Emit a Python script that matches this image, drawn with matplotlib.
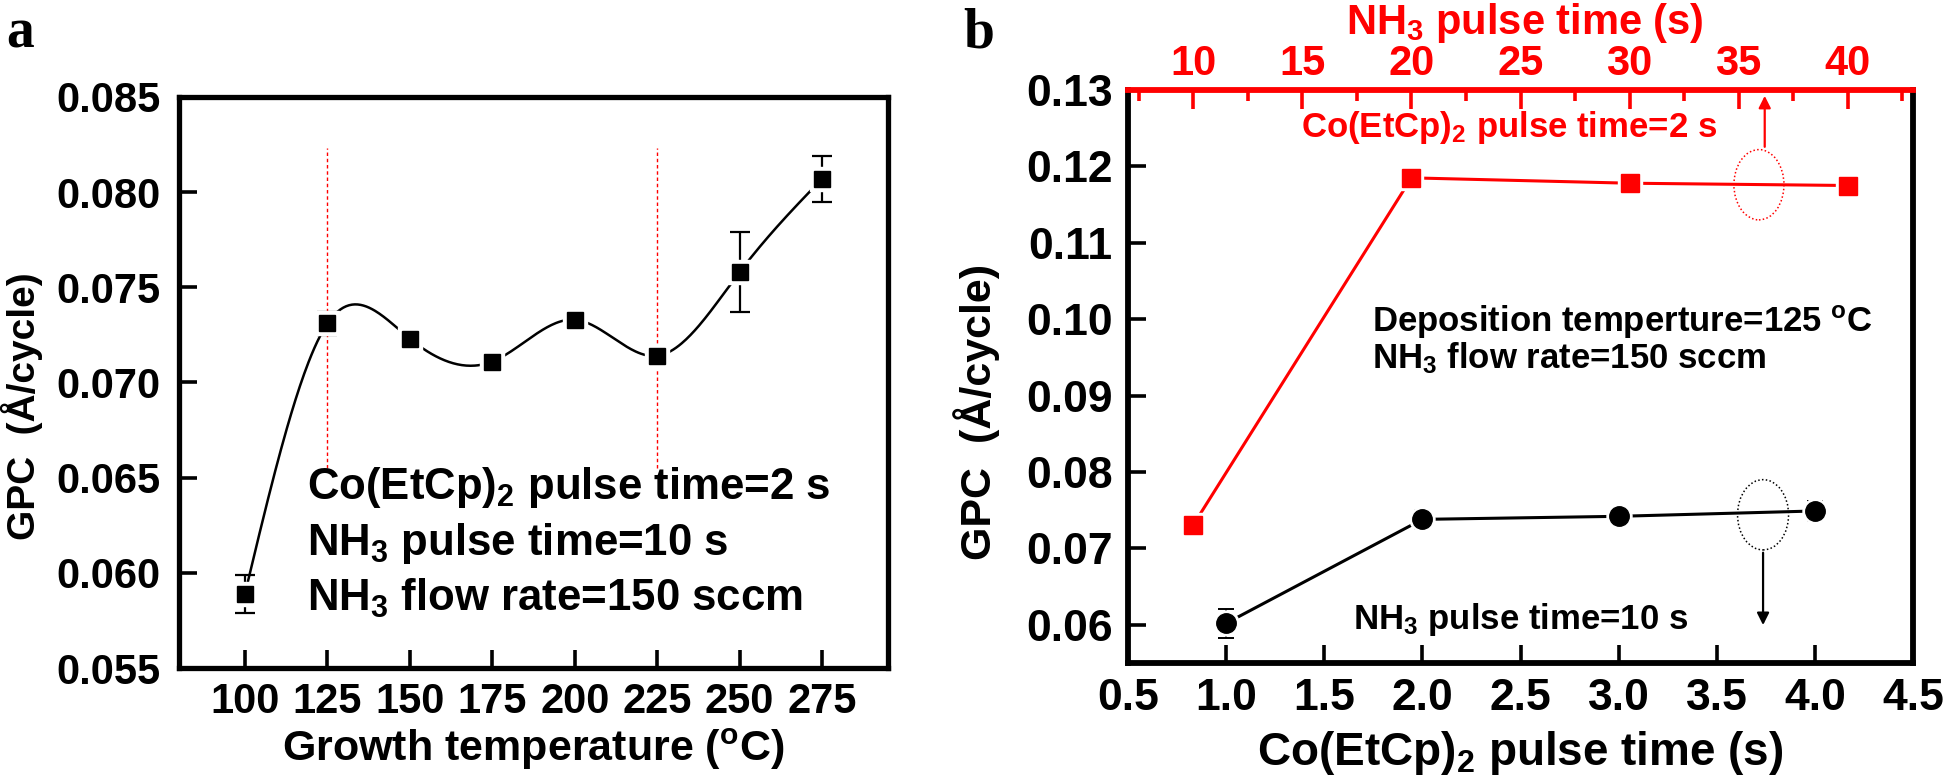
import numpy as np
import matplotlib
matplotlib.use('Agg')
import matplotlib.pyplot as plt
from matplotlib.patches import Ellipse

# panel a: growth temperature series
temp = [100, 125, 150, 175, 200, 225, 250, 275]
gpc_temp = [0.0589, 0.0731, 0.0723, 0.0711, 0.0733, 0.0714, 0.0758, 0.0807]
err_temp = [0.0010, 0.0006, 0.0002, 0.0002, 0.0002, 0.0005, 0.0021, 0.0012]

# panel b: pulse time series
co_time = [1.0, 2.0, 3.0, 4.0]
gpc_co = [0.0602, 0.0738, 0.0742, 0.0749]
err_co = [0.0019, 0.0012, 0.0004, 0.0013]
nh3_time = [10, 20, 30, 40]
gpc_nh3 = [0.0731, 0.1185, 0.1178, 0.1175]

plt.rcParams['font.family'] = ['Liberation Sans', 'DejaVu Sans']
plt.rcParams['font.weight'] = 'bold'
plt.rcParams['mathtext.fontset'] = 'custom'
plt.rcParams['mathtext.rm'] = 'Liberation Sans:bold'
plt.rcParams['mathtext.it'] = 'Liberation Sans:bold'
plt.rcParams['mathtext.bf'] = 'Liberation Sans:bold'
plt.rcParams['mathtext.default'] = 'rm'

W, H = 1946, 778
def fx(px):
    return px / W
def fy(py):
    return 1 - py / H


def natural_spline(x, y, xs):
    # Origin-style spline connector through the measured points
    x = np.asarray(x, float)
    y = np.asarray(y, float)
    n = len(x)
    h = np.diff(x)
    A = np.zeros((n, n))
    r = np.zeros(n)
    A[0, 0] = A[-1, -1] = 1
    for i in range(1, n - 1):
        A[i, i - 1] = h[i - 1]
        A[i, i] = 2 * (h[i - 1] + h[i])
        A[i, i + 1] = h[i]
        r[i] = 3 * ((y[i + 1] - y[i]) / h[i] - (y[i] - y[i - 1]) / h[i - 1])
    c = np.linalg.solve(A, r)
    b = (y[1:] - y[:-1]) / h - h * (2 * c[:-1] + c[1:]) / 3
    d = (c[1:] - c[:-1]) / (3 * h)
    idx = np.clip(np.searchsorted(x, xs) - 1, 0, n - 2)
    dx = xs - x[idx]
    return y[idx] + b[idx] * dx + c[idx] * dx ** 2 + d[idx] * dx ** 3


fig = plt.figure(figsize=(19.46, 7.78), dpi=100)

# ---------------- panel a ----------------
ax = fig.add_axes([fx(179), fy(668), (888 - 179) / W, (668 - 97) / H])
xs = np.linspace(temp[0], temp[-1], 400)
ax.plot(xs, natural_spline(temp, gpc_temp, xs), color='black', lw=1.8, zorder=2)
ax.errorbar(temp, gpc_temp, yerr=err_temp, fmt='none', ecolor='black',
            elinewidth=1.6, capsize=7, capthick=1.6, zorder=3)
ax.plot(temp, gpc_temp, 's', color='white', ms=17, zorder=3)
ax.plot(temp, gpc_temp, 's', color='black', ms=12, zorder=4)
ax.vlines([125, 225], 0.0655, 0.0823, colors='red', lw=1.0,
          linestyles=(0, (2.5, 2)), zorder=1)
ax.set_xlim(80, 295)
ax.set_ylim(0.055, 0.085)
ax.set_xticks(temp)
ax.set_yticks([0.055, 0.060, 0.065, 0.070, 0.075, 0.080, 0.085])
ax.set_yticklabels(['%.3f' % v for v in ax.get_yticks()])
ax.tick_params(direction='in', length=13, width=2.6, labelsize=30,
               top=False, right=False)
ax.tick_params(axis='x', pad=10)
ax.tick_params(axis='y', pad=13)
for s in ax.spines.values():
    s.set_linewidth(3.8)

fig.text(fx(22), fy(406), 'GPC  (Å/cycle)', rotation=90, fontsize=28,
         ha='center', va='center')
fig.text(fx(533), fy(749), r'Growth temperature ($^{o}$C)', fontsize=31,
         ha='center', va='center')
fig.text(fx(307), fy(487), r'Co(EtCp)$_2$ pulse time=2 s', fontsize=31.5, va='center')
fig.text(fx(307), fy(543), r'NH$_3$ pulse time=10 s', fontsize=31.5, va='center')
fig.text(fx(307), fy(598), r'NH$_3$ flow rate=150 sccm', fontsize=31.5, va='center')
fig.text(fx(6), fy(47), 'a', fontsize=40, family='Liberation Serif',
         weight='bold', va='baseline')

# ---------------- panel b ----------------
ax2 = fig.add_axes([fx(1128), fy(663), (1913 - 1128) / W, (663 - 90) / H])
ax2.plot(co_time, gpc_co, color='black', lw=2.2, zorder=2)
ax2.errorbar(co_time, gpc_co, yerr=err_co, fmt='none', ecolor='black',
             elinewidth=1.4, capsize=6, capthick=1.4, zorder=3)
ax2.plot(co_time, gpc_co, 'o', color='white', ms=18, zorder=3)
ax2.plot(co_time, gpc_co, 'o', color='black', ms=14, zorder=4)
ax2.set_xlim(0.5, 4.5)
ax2.set_ylim(0.055, 0.13)
ax2.set_xticks([0.5, 1.0, 1.5, 2.0, 2.5, 3.0, 3.5, 4.0, 4.5])
ax2.set_xticklabels(['%.1f' % v for v in ax2.get_xticks()])
ax2.set_yticks([0.06, 0.07, 0.08, 0.09, 0.10, 0.11, 0.12, 0.13])
ax2.set_yticklabels(['%.2f' % v for v in ax2.get_yticks()])
ax2.tick_params(direction='in', length=13, width=2.6, labelsize=32,
                top=False, right=False)
ax2.tick_params(axis='x', pad=11)
ax2.tick_params(axis='y', pad=11)
for s in ax2.spines.values():
    s.set_linewidth(4.2)
ax2.spines['top'].set_visible(False)

ax2.add_patch(Ellipse((3.736, 0.0744), 0.26, 0.0092, fill=False,
                      ec='black', lw=1.1, ls=(0, (1, 1.5)), zorder=2))
ax2.add_patch(Ellipse((3.715, 0.1176), 0.255, 0.0092, fill=False,
                      ec='red', lw=1.1, ls=(0, (1, 1.5)), zorder=2))
ax2.annotate('', xy=(3.736, 0.0596), xytext=(3.736, 0.0698),
             arrowprops=dict(arrowstyle='-|>', color='black', lw=1.6,
                             mutation_scale=18))

ax2t = ax2.twiny()
ax2t.plot(nh3_time, gpc_nh3, color='red', lw=2.2, zorder=2)
ax2t.plot(nh3_time, gpc_nh3, 's', color='white', ms=17, zorder=3)
ax2t.plot(nh3_time, gpc_nh3, 's', color='red', ms=13, zorder=4)
ax2t.set_xlim(7, 43)
ax2t.set_xticks([10, 15, 20, 25, 30, 35, 40])
ax2t.set_xticks(np.arange(7.5, 43, 5), minor=True)
ax2t.tick_params(axis='x', which='major', direction='in', length=14, width=2.6,
                 color='red', labelcolor='red', labelsize=30, pad=4)
ax2t.tick_params(axis='x', which='minor', direction='in', length=8, width=2.6,
                 color='red')
for k in ['bottom', 'left', 'right']:
    ax2t.spines[k].set_visible(False)
ax2t.spines['top'].set_color('red')
ax2t.spines['top'].set_linewidth(4.2)
ax2t.annotate('', xy=(36.2, 0.1296), xytext=(36.2, 0.1222),
              arrowprops=dict(arrowstyle='-|>', color='red', lw=1.6,
                              mutation_scale=18))

fig.text(fx(977), fy(412), 'GPC  (Å/cycle)', rotation=90, fontsize=31,
         ha='center', va='center')
fig.text(fx(1520), fy(753), r'Co(EtCp)$_2$ pulse time (s)', fontsize=33,
         ha='center', va='center')
fig.text(fx(1525), fy(34), r'NH$_3$ pulse time (s)', fontsize=30, color='red',
         ha='center', va='baseline')
fig.text(fx(1509), fy(128), r'Co(EtCp)$_2$ pulse time=2 s', fontsize=25,
         color='red', ha='center', va='center')
fig.text(fx(1372), fy(322), r'Deposition temperture=125 $^{o}$C', fontsize=25,
         va='center')
fig.text(fx(1372), fy(358), r'NH$_3$ flow rate=150 sccm', fontsize=25, va='center')
fig.text(fx(1353), fy(620), r'NH$_3$ pulse time=10 s', fontsize=25, va='center')
fig.text(fx(963), fy(48), 'b', fontsize=40, family='Liberation Serif',
         weight='bold', va='baseline')

fig.savefig('out.png', dpi=100, facecolor='white')
